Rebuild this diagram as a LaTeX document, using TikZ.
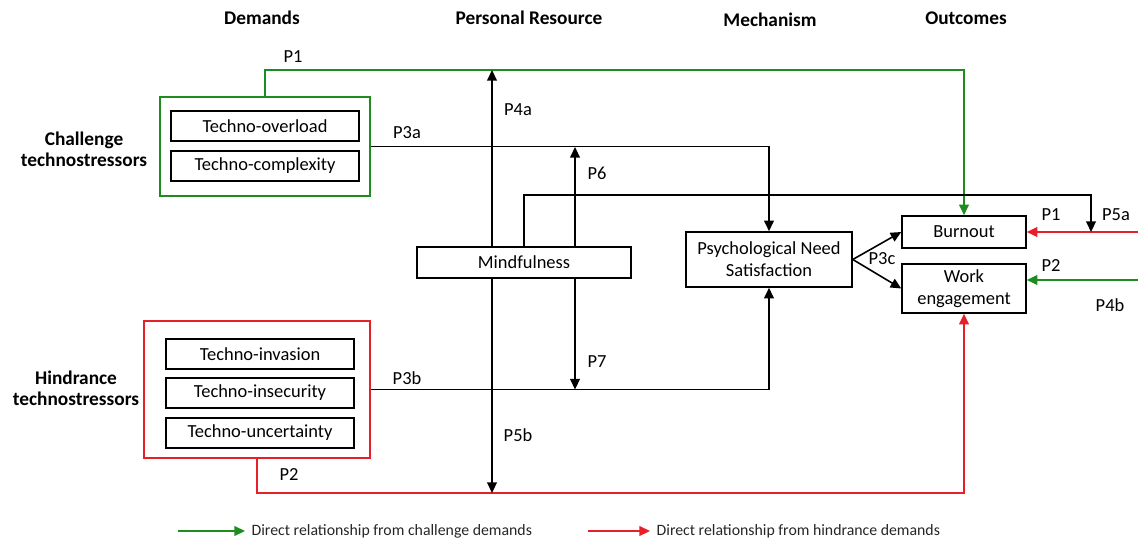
\documentclass[tikz,border=0pt]{standalone}
\usepackage{fontspec}
\setmainfont{Carlito}
\usetikzlibrary{arrows.meta}
\definecolor{chgreen}{RGB}{30,140,30}
\definecolor{hinred}{RGB}{232,30,40}

\tikzset{
  box/.style={draw, line width=0.9pt, fill=white, inner sep=0pt, align=center,
    font=\fontsize{10.5}{12.5}\selectfont},
  group/.style={draw, line width=0.9pt, inner sep=0pt},
  link/.style={line width=0.9pt},
  arr/.style={-{Triangle[length=6pt,width=5.5pt]}},
  plabel/.style={font=\fontsize{10.5}{12}\selectfont},
  head/.style={font=\fontsize{11}{13}\selectfont\bfseries},
  side/.style={font=\fontsize{11}{12}\selectfont\bfseries, align=center},
  legend/.style={font=\fontsize{9}{11}\selectfont, text=black!85, right},
}

\begin{document}
\begin{tikzpicture}[x=0.02cm,y=-0.02cm]
    \useasboundingbox (0,0) rectangle (1138,547);

    % Column headings
    \node[head] (hdem) at (262,18) {Demands};
    \node[head] (hres) at (529,18) {Personal Resource};
    \node[head] (hmech) at (770,20) {Mechanism};
    \node[head] (hout) at (966,18) {Outcomes};

    % Demands
    \node[group, draw=chgreen, minimum width=4.2cm, minimum height=1.98cm] (chal) at (265,146.5) {};
    \node[box, minimum width=3.76cm, minimum height=0.6cm] (overload) at (265,126) {Techno-overload};
    \node[box, minimum width=3.76cm, minimum height=0.6cm] (complex) at (265,166) {Techno-complexity};
    \node[side] (chaltxt) at (84,149) {Challenge\\technostressors};

    \node[group, draw=hinred, minimum width=4.52cm, minimum height=2.74cm] (hind) at (257,389.5) {};
    \node[box, minimum width=3.76cm, minimum height=0.6cm] (invasion) at (260,354) {Techno-invasion};
    \node[box, minimum width=3.76cm, minimum height=0.6cm] (insecure) at (260,393) {Techno-insecurity};
    \node[box, minimum width=3.76cm, minimum height=0.6cm] (uncertain) at (260,433) {Techno-uncertainty};
    \node[side] (hindtxt) at (76,388) {Hindrance\\technostressors};

    % Resource, mechanism, outcomes
    \node[box, minimum width=4.28cm, minimum height=0.62cm] (mind) at (524,262.5) {Mindfulness};
    \node[box, minimum width=3.32cm, minimum height=1.1cm] (pns) at (769,259.5) {Psychological Need\\Satisfaction};
    \node[box, minimum width=2.48cm, minimum height=0.64cm] (burn) at (964,232) {Burnout};
    \node[box, minimum width=2.48cm, minimum height=0.98cm] (we) at (964,288.5) {Work\\engagement};

    % Bend and end points
    \coordinate (p1bend) at (265,70);
    \coordinate (p2bend) at (257,493);
    \coordinate (p4tip) at (492,70);
    \coordinate (p5btip) at (492,493);
    \coordinate (p6tip) at (575,147);
    \coordinate (p7tip) at (575,389.5);
    \coordinate (p5atip) at (1091,232);
    \coordinate (p1in) at (1138,232);
    \coordinate (p2in) at (1138,280);

    % Direct paths
    \draw[link, arr, chgreen] (chal.north) -- (p1bend) -| (burn.north);
    \draw[link, arr, hinred] (hind.south) -- (p2bend) -| (we.south);
    \draw[link, arr, hinred] (p1in) -- (burn.east);
    \draw[link, arr, chgreen] (p2in) -- (p2in -| we.east);

    % Mediation
    \draw[link, arr] (chal.east) -| (pns.north);
    \draw[link, arr] (hind.east) -| (pns.south);
    \draw[link, arr] (pns.east) -- (burn.west);
    \draw[link, arr] (pns.east) -- (we.west);

    % Moderation by mindfulness
    \draw[link, arr] (mind.north -| p4tip) -- (p4tip);
    \draw[link, arr] (mind.south -| p5btip) -- (p5btip);
    \draw[link, arr] (mind.north -| p6tip) -- (p6tip);
    \draw[link, arr] (mind.south -| p7tip) -- (p7tip);
    \draw[link, arr] (mind.north) -- ++(0,-51) -| (p5atip);

    % Path labels
    \node[plabel] (l1) at (293,57) {P1};
    \node[plabel] (l3a) at (407,133) {P3a};
    \node[plabel] (l3b) at (407,378) {P3b};
    \node[plabel] (l2) at (289,475) {P2};
    \node[plabel] (l4a) at (518,110) {P4a};
    \node[plabel] (l5b) at (518,435) {P5b};
    \node[plabel] (l6) at (597,173) {P6};
    \node[plabel] (l7) at (597,362) {P7};
    \node[plabel] (l3c) at (882,259) {P3c};
    \node[plabel] (l1r) at (1051,215) {P1};
    \node[plabel] (l5a) at (1116,215) {P5a};
    \node[plabel] (l2r) at (1051,266) {P2};
    \node[plabel] (l4b) at (1110,305) {P4b};

    % Legend
    \coordinate (lg1a) at (178,531);
    \coordinate (lg1b) at (245,531);
    \coordinate (lg2a) at (588,531);
    \coordinate (lg2b) at (650,531);
    \draw[link, arr, chgreen] (lg1a) -- (lg1b) node[legend] (lgtxt1) {Direct relationship from challenge demands};
    \draw[link, arr, hinred] (lg2a) -- (lg2b) node[legend] (lgtxt2) {Direct relationship from hindrance demands};
\end{tikzpicture}
\end{document}
